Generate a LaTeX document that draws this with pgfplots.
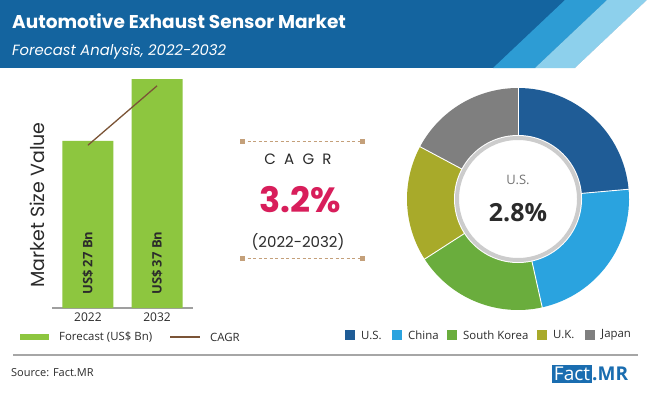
\documentclass[border=0pt]{standalone}
\usepackage{fontspec}
\setmainfont{Open Sans}
\newfontfamily\popfont{Poppins}
\usepackage{pgfplots}
\pgfplotsset{compat=1.18}
\definecolor{hdr}{HTML}{14649F}
\definecolor{stripeA}{HTML}{2D9CD4}
\definecolor{stripeB}{HTML}{8DD0EC}
\definecolor{bargreen}{HTML}{8DC63F}
\definecolor{cagrline}{HTML}{7B5436}
\definecolor{cagrred}{HTML}{D81E5B}
\definecolor{tan}{HTML}{C4A07A}
\definecolor{cUS}{HTML}{1F5C96}
\definecolor{cCN}{HTML}{2AA3DF}
\definecolor{cSK}{HTML}{6AAD3D}
\definecolor{cUK}{HTML}{A8AA2A}
\definecolor{cJP}{HTML}{7F7F7F}
\definecolor{logoblue}{HTML}{1A6DB0}
\definecolor{txt}{HTML}{2B2B2B}
% donut shares (%)
\def\vUS{23.6}
\def\vCN{22.9}
\def\vSK{19.4}
\def\vUK{16.9}
\def\vJP{17.2}
\pgfmathsetmacro\aA{90}
\pgfmathsetmacro\aB{\aA-3.6*\vUS}
\pgfmathsetmacro\aC{\aB-3.6*\vCN}
\pgfmathsetmacro\aD{\aC-3.6*\vSK}
\pgfmathsetmacro\aE{\aD-3.6*\vUK}
\pgfmathsetmacro\aF{\aE-3.6*\vJP}
\newcommand\fs[1]{\fontsize{#1bp}{#1bp}\selectfont}
\begin{document}
\begin{tikzpicture}[x=1bp,y=1bp]
\fill[white] (0,0) rectangle (650,393);
% header
\fill[hdr] (0,325) rectangle (650,393);
\fill[stripeA] (565,393) -- (607,393) -- (535,325) -- (493,325) -- cycle;
\fill[stripeB] (607,393) -- (647,393) -- (575,325) -- (535,325) -- cycle;
\fill[white] (647,393) -- (650,393) -- (650,325) -- (575,325) -- cycle;
\node[anchor=base west, inner sep=0, text=white, font=\popfont\bfseries\fs{18.5}] at (12,365) {Automotive Exhaust Sensor Market};
\node[anchor=base west, inner sep=0, text=white, font=\popfont\itshape\fs{14.8}] at (12,338) {Forecast Analysis, 2022-2032};

% bar chart
\begin{axis}[
  at={(52bp,85bp)}, anchor=south west,
  scale only axis, width=141bp, height=229bp,
  xmin=-0.52, xmax=1.52, ymin=0, ymax=37,
  axis x line*=bottom, hide y axis,
  x axis line style={-, draw=gray!75, line width=1.5bp},
  xtick={0,1}, xticklabels={2022,2032},
  major tick length=0pt,
  xticklabel style={font=\fs{12}, text=txt, yshift=-1bp},
  clip=false,
]
\addplot[ybar, bar width=51bp, fill=bargreen, draw=none] coordinates {(0,27) (1,37)};
\addplot[sharp plot, cagrline, line width=1.3bp, mark=none] coordinates {(0,26.3) (1,35.9)};
\node[rotate=90, anchor=west, inner sep=0, font=\bfseries\fs{13}, text=txt] at (axis cs:0,2.1) {US\$ 27 Bn};
\node[rotate=90, anchor=west, inner sep=0, font=\bfseries\fs{13}, text=txt] at (axis cs:1,2.1) {US\$ 37 Bn};
\end{axis}
\node[rotate=90, font=\popfont\fs{19}, text=txt] at (37,188) {Market Size Value};
% bar legend
\fill[bargreen] (20,53) rectangle (49,59);
\node[anchor=west, inner sep=0, font=\fs{11.4}, text=txt] at (59,56) {Forecast (US\$ Bn)};
\draw[cagrline, line width=1.5bp] (170,56) -- (200,56);
\node[anchor=west, inner sep=0, font=\fs{11.4}, text=txt] at (210,56) {CAGR};

% CAGR block
\draw[tan, dash pattern=on 3bp off 2.5bp, line width=0.8bp] (242,252) -- (362,252);
\draw[tan, dash pattern=on 3bp off 2.5bp, line width=0.8bp] (242,135) -- (362,135);
\foreach \px/\py in {242/252,362/252,242/135,362/135}{\fill[tan] (\px-2.5,\py-2.5) rectangle (\px+2.5,\py+2.5);}
\node[font=\popfont\fs{15}, text=txt] at (298,234) {C\hspace{0.55em}A\hspace{0.55em}G\hspace{0.55em}R};
\node[font=\popfont\bfseries\fs{35}, text=cagrred] at (300,193) {3.2\%};
\node[font=\popfont\fs{15}, text=txt] at (298,151) {(2022-2032)};

% donut
\begin{axis}[
  at={(518bp,194bp)}, anchor=center,
  x=1bp, y=1bp, xmin=-115, xmax=115, ymin=-115, ymax=115,
  hide axis, clip=false,
]
\fill[cUS] (axis cs:0,0) -- (axis cs:{111*cos(\aA)},{111*sin(\aA)}) arc[start angle=\aA, end angle=\aB, radius=111bp] -- cycle;
\fill[cCN] (axis cs:0,0) -- (axis cs:{111*cos(\aB)},{111*sin(\aB)}) arc[start angle=\aB, end angle=\aC, radius=111bp] -- cycle;
\fill[cSK] (axis cs:0,0) -- (axis cs:{111*cos(\aC)},{111*sin(\aC)}) arc[start angle=\aC, end angle=\aD, radius=111bp] -- cycle;
\fill[cUK] (axis cs:0,0) -- (axis cs:{111*cos(\aD)},{111*sin(\aD)}) arc[start angle=\aD, end angle=\aE, radius=111bp] -- cycle;
\fill[cJP] (axis cs:0,0) -- (axis cs:{111*cos(\aE)},{111*sin(\aE)}) arc[start angle=\aE, end angle=\aF, radius=111bp] -- cycle;
\draw[white, line width=0.9bp] (axis cs:0,0) -- (axis cs:{112*cos(\aA)},{112*sin(\aA)});
\draw[white, line width=0.9bp] (axis cs:0,0) -- (axis cs:{112*cos(\aB)},{112*sin(\aB)});
\draw[white, line width=0.9bp] (axis cs:0,0) -- (axis cs:{112*cos(\aC)},{112*sin(\aC)});
\draw[white, line width=0.9bp] (axis cs:0,0) -- (axis cs:{112*cos(\aD)},{112*sin(\aD)});
\draw[white, line width=0.9bp] (axis cs:0,0) -- (axis cs:{112*cos(\aE)},{112*sin(\aE)});
\fill[white] (axis cs:0,0) circle[radius=64bp];
\draw[gray!40, line width=4bp, fill=white] (axis cs:0,0) circle[radius=61bp];
\node[font=\fs{13}, text=gray!90!black] at (axis cs:0,19) {U.S.};
\node[font=\bfseries\fs{25}, text=txt] at (axis cs:0,-14) {2.8\%};
\end{axis}
% donut legend
\foreach \sx/\col/\lab in {345/cUS/U.S., 392/cCN/China, 447/cSK/South Korea, 537/cUK/U.K., 585/cJP/Japan}{
  \fill[\col] (\sx,53) rectangle (\sx+10,63);
  \node[anchor=west, inner sep=0, font=\fs{11.4}, text=txt] at (\sx+16,58) {\lab};
}
% footer
\draw[gray!70, line width=2bp] (13,38) -- (638,38);
\node[anchor=west, inner sep=0, font=\fs{11}, text=txt] at (11,20) {Source: Fact.MR};
\fill[logoblue] (552,10) rectangle (592,28);
\node[inner sep=0, font=\fs{19}, text=white] at (572,19) {Fact};
\node[anchor=west, inner sep=0, font=\bfseries\fs{19}, text=logoblue] at (592,19) {.MR};
\end{tikzpicture}
\end{document}
